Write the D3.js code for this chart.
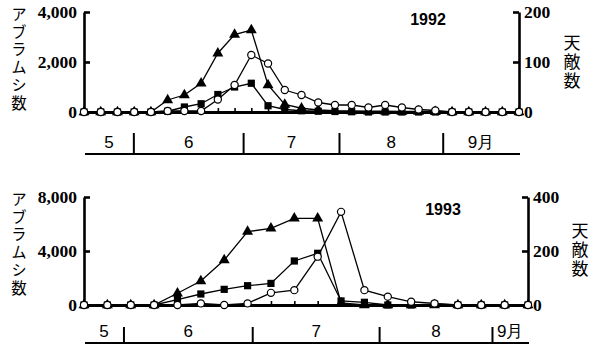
<!DOCTYPE html>
<html lang="ja">
<head>
<meta charset="UTF-8">
<title>アブラムシ数と天敵数</title>
<script src="https://cdn.jsdelivr.net/npm/d3@7"></script>
<style>
  body { margin: 0; background: #fff; }
  svg { display: block; }
  .num { font-family: "Liberation Serif", "DejaVu Serif", serif; font-weight: bold; font-size: 17.5px; fill: #000; }
  .month { font-family: "Liberation Sans", Arial, sans-serif; font-size: 17px; fill: #000; }
  .year { font-family: "Liberation Sans", Arial, sans-serif; font-weight: bold; font-size: 16px; fill: #000; }
  .jp { font-family: "Noto Sans CJK JP", sans-serif; fill: #000; writing-mode: vertical-rl; }
</style>
</head>
<body>
<div id="chart"></div>
<script>

    // one value per survey date, left to right
    const months = ['5', '6', '7', '8', '9月'];
    const aphidLabel = 'アブラムシ数';
    const enemyLabel = '天敵数';

    // 1992
    const aphidTri1992 = [0, 0, 0, 0, 0, 480, 680, 1150, 2350, 3100, 3280, 1080, 300, 150, 80, 50, 40, 30, 30, 20, 20, 10, 0, 0, 0, 0, 0];
    const aphidSq1992  = [0, 0, 0, 0, 0, 30, 200, 330, 700, 1000, 1150, 250, 100, 50, 30, 20, 10, 0, 0, 0, 0, 0, 0, 0, 0, 0, 0];
    const enemy1992    = [0, 0, 0, 0, 0, 2, 2, 2, 25, 54, 114, 97, 44, 34, 19, 14, 14, 9, 14, 9, 5, 3, 0, 0, 0, 0, 0];
    const monthBreaks1992 = [2.98, 9.54, 15.27, 21.47];   // survey index where a month starts
    const leftTicks1992 = [0, 2000, 4000];
    const rightTicks1992 = [0, 100, 200];

    // 1993
    const aphidTri1993 = [0, 0, 0, 0, 870, 1780, 3330, 5430, 5680, 6420, 6420, 150, 0, 0, 0, 0, 0, 0, 0, 0];
    const aphidSq1993  = [0, 0, 0, 0, 400, 815, 1160, 1430, 1600, 3260, 3830, 300, 200, 0, 0, 60, 0, 0, 0, 0];
    const enemy1993    = [0, 0, 0, 0, 0, 6, 0, 6, 45, 55, 179, 345, 55, 31, 12, 6, 0, 0, 0, 0];
    const monthBreaks1993 = [1.71, 7.22, 12.65, 17.48];
    const leftTicks1993 = [0, 4000, 8000];
    const rightTicks1993 = [0, 200, 400];

    const width = 602;
    const height = 349;

    const svg = d3.select('#chart')
        .append('svg')
        .attr('width', width)
        .attr('height', height);

    const drawPanel = (p) => {

        const n = p.tri.length;
        const L = p.layout;

        const x = d3.scaleLinear().domain([0, n - 1]).range([L.x0, L.x1]);
        const yL = d3.scaleLinear().domain([0, d3.max(p.leftTicks)]).range([L.yBase, L.yTop]);
        const yR = d3.scaleLinear().domain([0, d3.max(p.rightTicks)]).range([L.yBase, L.yTop]);

        const g = svg.append('g');

        // baseline with a small tick at every survey date
        const xAxis = g.append('g')
            .attr('transform', `translate(0, ${L.yBase})`)
            .call(d3.axisBottom(x).tickValues(d3.range(n)).tickSizeInner(-4).tickSizeOuter(0).tickFormat(''));
        xAxis.select('.domain').attr('stroke-width', 3);
        xAxis.selectAll('.tick line').attr('stroke-width', 1.6);

        const leftAxis = g.append('g')
            .attr('transform', `translate(${L.x0}, 0)`)
            .call(d3.axisLeft(yL).tickValues(p.leftTicks).tickFormat(d3.format(','))
                .tickSizeInner(-6).tickSizeOuter(0).tickPadding(7));

        const rightAxis = g.append('g')
            .attr('transform', `translate(${L.x1}, 0)`)
            .call(d3.axisRight(yR).tickValues(p.rightTicks)
                .tickSizeInner(-6).tickSizeOuter(0).tickPadding(5));

        [leftAxis, rightAxis].forEach(a => {
            a.select('.domain').attr('stroke-width', 2.6);
            a.selectAll('.tick line').attr('stroke-width', 2.6);
            a.selectAll('.tick text').attr('class', 'num');
        });

        // lines
        const lineL = d3.line().x((d, i) => x(i)).y(d => yL(d));
        const lineR = d3.line().x((d, i) => x(i)).y(d => yR(d));

        [[p.tri, lineL], [p.sq, lineL], [p.enemy, lineR]].forEach(([vals, fn]) => {
            g.append('path')
                .attr('d', fn(vals))
                .attr('fill', 'none')
                .attr('stroke', '#000')
                .attr('stroke-width', 1.3);
        });

        // markers
        g.selectAll('.tri')
            .data(p.tri)
            .enter()
            .append('path')
            .attr('d', d3.symbol(d3.symbolTriangle, 52))
            .attr('transform', (d, i) => `translate(${x(i)}, ${yL(d)})`)
            .attr('fill', '#000');

        g.selectAll('.sq')
            .data(p.sq)
            .enter()
            .append('rect')
            .attr('x', (d, i) => x(i) - 3.6)
            .attr('y', d => yL(d) - 3.6)
            .attr('width', 7.2)
            .attr('height', 7.2)
            .attr('fill', '#000');

        g.selectAll('.circ')
            .data(p.enemy)
            .enter()
            .append('circle')
            .attr('cx', (d, i) => x(i))
            .attr('cy', d => yR(d))
            .attr('r', 3.6)
            .attr('fill', '#fff')
            .attr('stroke', '#000')
            .attr('stroke-width', 1.2);

        // month strip
        g.append('line')
            .attr('x1', L.x0 + 1).attr('x2', L.x1 + 1)
            .attr('y1', L.stripLine).attr('y2', L.stripLine)
            .attr('stroke', '#000').attr('stroke-width', 2);

        g.selectAll('.div')
            .data(p.breaks)
            .enter()
            .append('line')
            .attr('x1', d => x(d)).attr('x2', d => x(d))
            .attr('y1', L.stripTop).attr('y2', L.stripLine)
            .attr('stroke', '#000').attr('stroke-width', 2);

        const edges = [0, ...p.breaks, n - 1];
        g.selectAll('.month')
            .data(months)
            .enter()
            .append('text')
            .attr('class', 'month')
            .attr('x', (d, i) => x((edges[i] + edges[i + 1]) / 2))
            .attr('y', L.monthY)
            .attr('text-anchor', 'middle')
            .text(d => d);

        g.append('text')
            .attr('class', 'year')
            .attr('x', L.yearX)
            .attr('y', L.yearY)
            .attr('text-anchor', 'middle')
            .text(p.year);

        // vertical Japanese titles
        g.append('text')
            .attr('class', 'jp')
            .attr('font-size', 15.5)
            .attr('letter-spacing', 2.4)
            .attr('x', 19)
            .attr('y', L.aphidY)
            .text(aphidLabel);

        g.append('text')
            .attr('class', 'jp')
            .attr('font-size', 17)
            .attr('letter-spacing', 1.8)
            .attr('x', L.enemyX)
            .attr('y', L.enemyY)
            .text(enemyLabel);

    }

    drawPanel({
        year: '1992',
        tri: aphidTri1992, sq: aphidSq1992, enemy: enemy1992,
        breaks: monthBreaks1992, leftTicks: leftTicks1992, rightTicks: rightTicks1992,
        layout: { x0: 84, x1: 519, yTop: 12, yBase: 112, stripTop: 133, stripLine: 154, monthY: 148,
                  yearX: 428, yearY: 25, aphidY: 6, enemyX: 572, enemyY: 34 }
    });

    drawPanel({
        year: '1993',
        tri: aphidTri1993, sq: aphidSq1993, enemy: enemy1993,
        breaks: monthBreaks1993, leftTicks: leftTicks1993, rightTicks: rightTicks1993,
        layout: { x0: 84, x1: 528, yTop: 197, yBase: 305, stripTop: 327, stripLine: 343, monthY: 337,
                  yearX: 443, yearY: 215, aphidY: 191, enemyX: 580, enemyY: 222 }
    });

</script>
</body>
</html>
